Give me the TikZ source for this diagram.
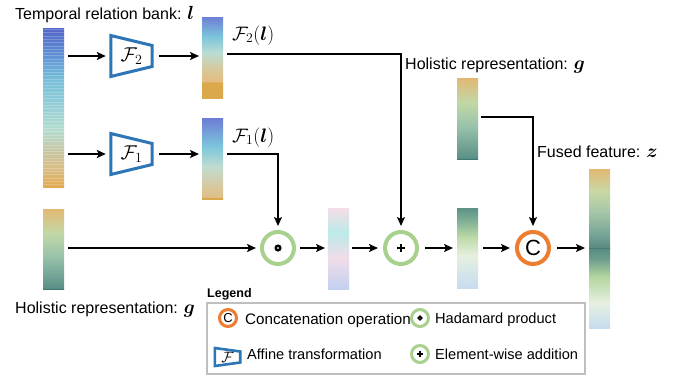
\documentclass[tikz,border=0pt]{standalone}
\usepackage{fix-cm}
\usepackage{amsmath,bm}
\usepackage[no-math]{fontspec}
\setmainfont{Liberation Sans}
\usetikzlibrary{arrows.meta}

\definecolor{ringgreen}{HTML}{A9D18E}
\definecolor{catorange}{HTML}{ED7D31}
\definecolor{affblue}{HTML}{2E75B6}
\definecolor{legendgray}{HTML}{BFBFBF}

% larger symbols inside the sans-serif labels
\newcommand{\symb}[1]{{\fontsize{19}{19}\selectfont$\bm{#1}$}}

% vertical colour ramps for the feature vectors (bottom = 25bp, top = 75bp)
\pgfdeclareverticalshading{bankshade}{100bp}{%
  rgb(0bp)=(0.886,0.667,0.314); rgb(25bp)=(0.886,0.667,0.314);
  rgb(31bp)=(0.847,0.745,0.525); rgb(36bp)=(0.784,0.776,0.635);
  rgb(43bp)=(0.706,0.863,0.812); rgb(52bp)=(0.565,0.800,0.847);
  rgb(59.6bp)=(0.455,0.737,0.847); rgb(67bp)=(0.369,0.557,0.831);
  rgb(75bp)=(0.329,0.400,0.784); rgb(100bp)=(0.329,0.400,0.784)}
\pgfdeclareverticalshading{ftwoshade}{100bp}{%
  rgb(0bp)=(0.863,0.659,0.298); rgb(25bp)=(0.863,0.659,0.298);
  rgb(34.8bp)=(0.863,0.659,0.298); rgb(35bp)=(0.886,0.737,0.502);
  rgb(42.3bp)=(0.847,0.784,0.600); rgb(52.8bp)=(0.737,0.863,0.831);
  rgb(63bp)=(0.486,0.769,0.863); rgb(75bp)=(0.431,0.498,0.831);
  rgb(100bp)=(0.431,0.498,0.831)}
\pgfdeclareverticalshading{foneshade}{100bp}{%
  rgb(0bp)=(0.863,0.659,0.298); rgb(25.7bp)=(0.863,0.659,0.298);
  rgb(26.2bp)=(0.875,0.745,0.518); rgb(30bp)=(0.863,0.769,0.580);
  rgb(45bp)=(0.753,0.863,0.816); rgb(57.5bp)=(0.486,0.776,0.863);
  rgb(75bp)=(0.424,0.486,0.831); rgb(100bp)=(0.424,0.486,0.831)}
\pgfdeclareverticalshading{holshade}{100bp}{%
  rgb(0bp)=(0.243,0.478,0.447); rgb(25bp)=(0.243,0.478,0.447);
  rgb(25.8bp)=(0.361,0.565,0.533); rgb(45bp)=(0.596,0.761,0.667);
  rgb(60bp)=(0.761,0.847,0.651); rgb(75bp)=(0.886,0.722,0.455);
  rgb(100bp)=(0.886,0.722,0.455)}
\pgfdeclareverticalshading{prodshade}{100bp}{%
  rgb(0bp)=(0.769,0.816,0.941); rgb(25bp)=(0.769,0.816,0.941);
  rgb(44bp)=(0.941,0.863,0.914); rgb(60bp)=(0.741,0.918,0.910);
  rgb(75bp)=(0.965,0.867,0.910); rgb(100bp)=(0.965,0.867,0.910)}
\pgfdeclareverticalshading{sumshade}{100bp}{%
  rgb(0bp)=(0.776,0.863,0.941); rgb(25bp)=(0.776,0.863,0.941);
  rgb(45bp)=(0.902,0.941,0.878); rgb(57bp)=(0.737,0.851,0.651);
  rgb(67bp)=(0.502,0.690,0.580); rgb(75bp)=(0.369,0.573,0.533);
  rgb(100bp)=(0.369,0.573,0.533)}
\pgfdeclareverticalshading{fusedshade}{100bp}{%
  rgb(0bp)=(0.776,0.863,0.941); rgb(25bp)=(0.776,0.863,0.941);
  rgb(33bp)=(0.902,0.941,0.878); rgb(41bp)=(0.706,0.839,0.627);
  rgb(47bp)=(0.416,0.612,0.549); rgb(49.9bp)=(0.353,0.549,0.518);
  rgb(50.1bp)=(0.243,0.478,0.447); rgb(50.4bp)=(0.353,0.549,0.518);
  rgb(55bp)=(0.478,0.659,0.596); rgb(62bp)=(0.659,0.784,0.659);
  rgb(68bp)=(0.784,0.847,0.643); rgb(75bp)=(0.886,0.722,0.455);
  rgb(100bp)=(0.886,0.722,0.455)}

\tikzset{
  featbar/.style={inner sep=0, outer sep=0, minimum width=21},
  arr/.style={line width=2.7, -{Stealth[length=9pt,width=8pt,inset=2pt]}},
  gring/.style={circle, draw=ringgreen, line width=4, minimum size=32, inner sep=0},
  oring/.style={circle, draw=catorange, line width=4, minimum size=32, inner sep=0},
  sgring/.style={circle, draw=ringgreen, line width=3, minimum size=17, inner sep=0},
  soring/.style={circle, draw=catorange, line width=3, minimum size=17, inner sep=0},
  affine/.style={draw=affblue, line width=3, line join=miter},
  lbl/.style={anchor=base west, inner sep=0, font=\fontsize{16}{19}\selectfont},
  mlbl/.style={anchor=base west, inner sep=0, font=\fontsize{19.5}{22}\selectfont},
  ltext/.style={anchor=base west, inner sep=0, font=\fontsize{14.6}{17}\selectfont},
  fbox/.style={inner sep=0, minimum width=41, minimum height=41, font=\fontsize{20}{22}\selectfont}
}

\begin{document}
\begin{tikzpicture}[x=1pt, y=-1pt]
\fill[white] (0,0) rectangle (678,376);
\useasboundingbox (0,0) rectangle (678,376);

% ---- temporal relation bank ----
\node[lbl] (banklbl) at (15,19) {Temporal relation bank: \symb{l}};
\node[featbar, minimum height=159, shading=bankshade] (bank) at (53.5,107.5) {};
\foreach \k in {0,...,47}
  \draw[white, opacity=0.22, line width=0.9] (43,{29.5+3.3*\k}) -- (64,{29.5+3.3*\k});

% ---- affine transformations ----
\node[fbox] (ft2) at (131.5,56) {$\mathcal{F}_2$};
\draw[affine] ([yshift=20.5]ft2.west) -- ([yshift=10.5]ft2.east)
  -- ([yshift=-10.5]ft2.east) -- ([yshift=-20.5]ft2.west) -- cycle;
\node[fbox] (ft1) at (131.5,154) {$\mathcal{F}_1$};
\draw[affine] ([yshift=20.5]ft1.west) -- ([yshift=10.5]ft1.east)
  -- ([yshift=-10.5]ft1.east) -- ([yshift=-20.5]ft1.west) -- cycle;

% ---- transformed banks ----
\node[featbar, minimum height=81, shading=ftwoshade] (bf2) at (212.5,57.5) {};
\node[featbar, minimum height=81, shading=foneshade] (bf1) at (212.5,158.5) {};
\node[mlbl] (bf2lbl) at (232,40) {$\mathcal{F}_2(\bm{l})$};
\node[mlbl] (bf1lbl) at (232,142) {$\mathcal{F}_1(\bm{l})$};

% ---- holistic representations ----
\node[featbar, minimum height=80, shading=holshade] (gb) at (53.5,249) {};
\node[lbl] (gblbl) at (15,313) {Holistic representation: \symb{g}};
\node[featbar, minimum height=81, shading=holshade] (gt) at (467.5,118.5) {};
\node[lbl] (gtlbl) at (405,69) {Holistic representation: \symb{g}};

% ---- operators ----
\node[gring] (had) at (278,248) {};
\draw[line width=2.4] (had.center) circle[radius=2.3];
\node[featbar, minimum height=81, shading=prodshade] (prd) at (338.5,248.5) {};
\node[gring] (add) at (401,248) {};
\draw[line width=2] ([xshift=-3.8]add.center) -- ([xshift=3.8]add.center);
\draw[line width=2] ([yshift=-3.8]add.center) -- ([yshift=3.8]add.center);
\node[featbar, minimum height=80, shading=sumshade] (sm) at (467.5,248) {};
\node[oring, font=\fontsize{22}{22}\selectfont] (cat) at (533,248) {C};
\node[featbar, minimum height=159, shading=fusedshade] (fz) at (599.5,248.5) {};
\node[lbl] (fzlbl) at (537,157) {Fused feature: \symb{z}};

% ---- connectors ----
\draw[arr, shorten <=4, shorten >=5] (bank.east |- ft2.west) -- (ft2.west);
\draw[arr, shorten <=4, shorten >=5] (bank.east |- ft1.west) -- (ft1.west);
\draw[arr, shorten <=7, shorten >=3] (ft2.east) -- (bf2.west |- ft2.east);
\draw[arr, shorten <=7, shorten >=3] (ft1.east) -- (bf1.west |- ft1.east);
\draw[arr, shorten <=4, shorten >=4] ([yshift=3.5]bf2.east) -| (add.north);
\draw[arr, shorten <=4, shorten >=4] ([yshift=4.5]bf1.east) -| (had.north);
\draw[arr, shorten <=4, shorten >=4] (gb.east |- had.west) -- (had.west);
\draw[arr, shorten <=4, shorten >=3] (had.east) -- (prd.west |- had.east);
\draw[arr, shorten <=3, shorten >=5] (prd.east |- add.west) -- (add.west);
\draw[arr, shorten <=6, shorten >=4] (add.east) -- (sm.west |- add.east);
\draw[arr, shorten <=5, shorten >=5] (sm.east |- cat.west) -- (cat.west);
\draw[arr, shorten <=6, shorten >=4] (cat.east) -- (fz.west |- cat.east);
\draw[arr, shorten <=3, shorten >=4] ([yshift=1.5]gt.east) -| (cat.north);

% ---- legend ----
\node[anchor=base west, inner sep=0, font=\bfseries\fontsize{12.5}{14}\selectfont] (leg) at (207,297) {Legend};
\node[draw=legendgray, line width=1.5, inner sep=0, minimum width=378, minimum height=71, anchor=north west] (legbox) at (206,302) {};
\node[soring, font=\fontsize{13}{13}\selectfont] (lc) at (228,318) {C};
\node[ltext, font=\fontsize{15.2}{18}\selectfont] (lctxt) at (245,324) {Concatenation operation};
\node[sgring] (lh) at (420,318) {};
\draw[line width=1.5] (lh.center) circle[radius=1.8];
\node[ltext] (lhtxt) at (435,323) {Hadamard product};
\node[inner sep=0, minimum width=25, minimum height=18, font=\fontsize{15}{15}\selectfont] (lf) at (227.5,357) {$\mathcal{F}$};
\draw[affine, line width=2.6] ([yshift=9]lf.west) -- ([yshift=5.5]lf.east)
  -- ([yshift=-5.5]lf.east) -- ([yshift=-9]lf.west) -- cycle;
\node[ltext] (lftxt) at (247,359) {Affine transformation};
\node[sgring] (la) at (420,354) {};
\draw[line width=1.5] ([xshift=-2.6]la.center) -- ([xshift=2.6]la.center);
\draw[line width=1.5] ([yshift=-2.6]la.center) -- ([yshift=2.6]la.center);
\node[ltext] (latxt) at (435,359) {Element-wise addition};
\end{tikzpicture}
\end{document}
